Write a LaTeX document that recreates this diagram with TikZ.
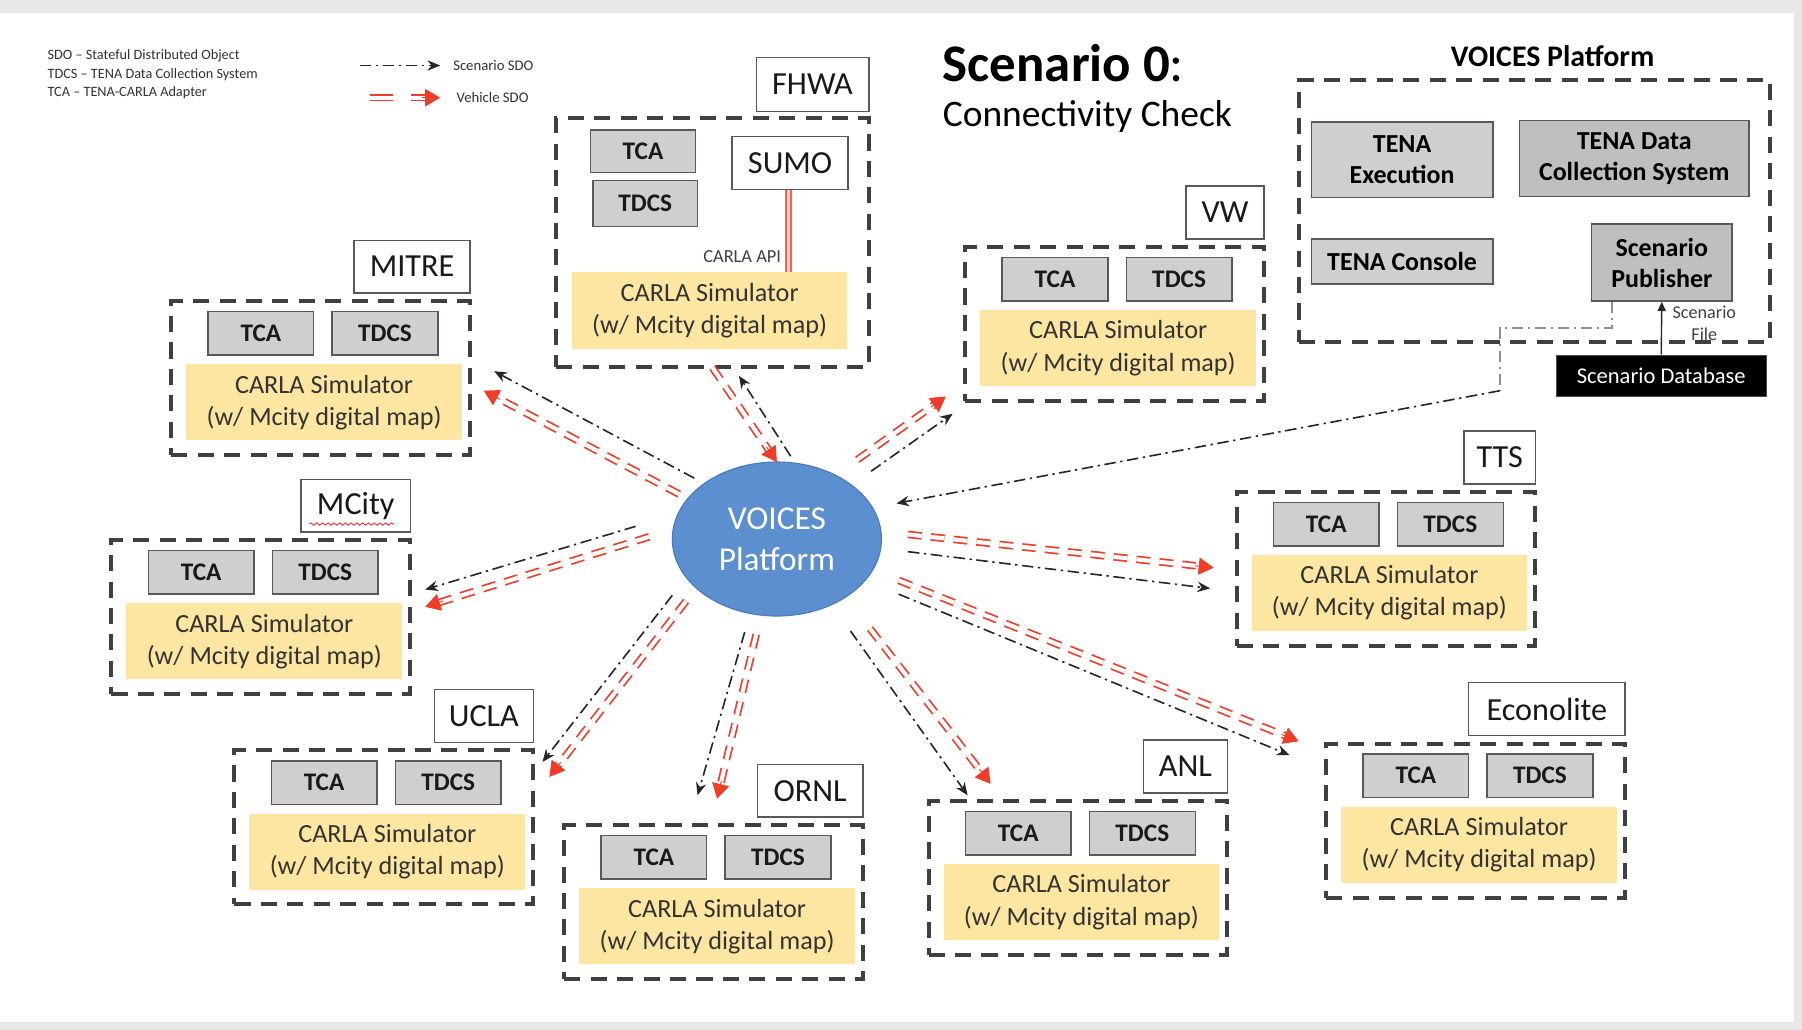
\documentclass[tikz,border=0pt]{standalone}
\usepackage{fontspec}
\setmainfont{Carlito}
\usetikzlibrary{shapes.geometric,arrows.meta,calc,decorations.pathmorphing}
\definecolor{grpc}{HTML}{404040}
\definecolor{compfill}{HTML}{D0CECE}
\definecolor{compdark}{HTML}{BFBFBF}
\definecolor{compdraw}{HTML}{595959}
\definecolor{carlafill}{HTML}{FDE6A2}
\definecolor{vblue}{HTML}{5B8FCF}
\definecolor{vbluedk}{HTML}{4A7BBE}
\definecolor{vred}{HTML}{F03C28}
\tikzset{
 grp/.style={draw=grpc, line width=1.75pt, dash pattern=on 7pt off 4.5pt, inner sep=0pt},
 comp/.style={draw=compdraw, fill=compfill, line width=0.6pt, inner sep=0pt, font=\bfseries\fontsize{11}{13.5}\selectfont, align=center, text=black!90},
 compd/.style={comp, fill=compdark},
 tena/.style={font=\bfseries\fontsize{11.3}{13.5}\selectfont, text=black},
 carla/.style={fill=carlafill, inner sep=0pt, align=center, font=\fontsize{11.4}{14}\selectfont, text=black!80},
 lbl/.style={draw=compdraw, fill=white, line width=0.6pt, inner sep=0pt, font=\fontsize{14}{16}\selectfont, text=black!90},
 scen/.style={draw=black!85, line width=0.7pt, dash pattern=on 5pt off 2pt on 1pt off 2pt, -{Stealth[length=5.5pt,width=4.5pt]}},
 vehline/.style={draw=vred, double=white, double distance=1.8pt, line width=0.75pt, dash pattern=on 6pt off 4pt, shorten >=5pt},
 vehtip/.style={draw=vred, fill=vred, line width=0.4pt, -{Triangle[length=6.5pt,width=7.5pt]}},
}
% box node from corner (x1,y1) to (x2,y2)
\newcommand\bx[7]{\node[#1, minimum width={((#5)-(#3))*0.5pt}, minimum height={((#6)-(#4))*0.5pt}] (#2) at ({((#3)+(#5))/2},{((#4)+(#6))/2}) {#7};}
\newcommand\site[5]{%
 \begin{scope}[shift={(#2,#3)}]
  \bx{grp}{#1}{0}{0}{260}{134}{}
  \bx{lbl}{#1lbl}{260-#5}{-53}{260}{-7}{#4}
  \bx{comp}{#1tca}{32}{9}{124}{47}{TCA}
  \bx{comp}{#1tdcs}{140}{9}{232}{47}{TDCS}
  \bx{carla}{#1carla}{13}{55}{253}{121}{CARLA Simulator\\(w/ Mcity digital map)}
 \end{scope}}
\newcommand\veh[2]{\draw[vehline] (#1) -- (#2); \draw[vehtip] ($(#2)!8pt!(#1)$) -- (#2);}
\begin{document}
\begin{tikzpicture}[x=0.5pt,y=-0.5pt]
\useasboundingbox (0,0) rectangle (1568,896);
\fill[black!9] (0,0) rectangle (1568,896);
\fill[white] (0,11) rectangle (1561,889);

% legend
\node[anchor=north west, align=left, inner sep=0pt, font=\fontsize{6.2}{8}\selectfont, text=black!80] (legend) at (41,43)
 {SDO -- Stateful Distributed Object\\TDCS -- TENA Data Collection System\\TCA -- TENA-CARLA Adapter};
\coordinate (lk1) at (313,57); \coordinate (lk2) at (383,57);
\coordinate (lv1) at (322,85); \coordinate (lv2) at (383,85);
\draw[scen] (lk1) -- (lk2);
\draw[vehline, dash pattern=on 10pt off 8pt] (lv1) -- (lv2); \draw[vehtip] ($(lv2)!8pt!(lv1)$) -- (lv2);
\node[anchor=west, inner sep=0pt, font=\fontsize{6.4}{8}\selectfont, text=black!80] (lks) at (394,57) {Scenario SDO};
\node[anchor=west, inner sep=0pt, font=\fontsize{6.4}{8}\selectfont, text=black!80] (lvs) at (397,85) {Vehicle SDO};

% title
\node[anchor=base west, inner sep=0pt, font=\fontsize{23}{26}\selectfont] (title) at (820,71) {\textbf{Scenario 0}:};
\node[anchor=base west, inner sep=0pt, font=\fontsize{16.3}{19}\selectfont] (subtitle) at (820,110) {Connectivity Check};

% VOICES platform box
\node[inner sep=0pt, font=\bfseries\fontsize{13}{15}\selectfont] (vptitle) at (1351,49) {VOICES Platform};
\bx{grp}{vp}{1130}{70}{1540}{298}{}
\bx{comp,tena}{exec}{1141}{106}{1299}{172}{TENA\\Execution}
\bx{compd,tena}{tdcsys}{1322}{105}{1522}{171}{TENA Data\\Collection System}
\bx{comp,tena}{console}{1141}{208}{1299}{247}{TENA Console}
\bx{compd,tena}{pub}{1385}{195}{1507}{262}{Scenario\\Publisher}
\bx{fill=black, draw=black!70, inner sep=0pt, text=white, font=\fontsize{9.8}{12}\selectfont}{db}{1354}{309}{1537}{345}{Scenario Database}
\draw[black!85, line width=0.6pt, -{Triangle[length=4pt,width=3.5pt]}] (db.north) -- (pub.south);
\node[align=center, inner sep=0pt, font=\fontsize{7.9}{9.5}\selectfont, text=black!75] (sfile) at (1483,281) {Scenario\\File};

% FHWA
\bx{grp}{fhwa}{484}{103}{756}{319}{}
\bx{lbl}{fhwalbl}{658}{50}{756}{97}{FHWA}
\bx{comp}{fhwatca}{514}{113}{605}{150}{TCA}
\bx{comp}{fhwatdcs}{516}{157}{607}{197}{TDCS}
\bx{lbl}{sumo}{637}{119}{738}{165}{SUMO}
\bx{carla}{fhwacarla}{498}{237}{737}{304}{CARLA Simulator\\(w/ Mcity digital map)}
\draw[draw=vred!80, double=vred!25, double distance=1.6pt, line width=0.6pt] (sumo.south -| 686,0) -- (fhwacarla.north -| 686,0);
\node[anchor=east, inner sep=0pt, font=\fontsize{8}{10}\selectfont, text=black!75] (api) at (680,223) {CARLA API};

% sites
\site{mitre}{149}{262}{MITRE}{101}
\site{mcity}{97}{470}{MCity}{95}
\site{ucla}{204}{653}{UCLA}{86}
\site{ornl}{491}{718}{ORNL}{92}
\site{anl}{808}{697}{ANL}{73}
\site{econ}{1154}{647}{Econolite}{136}
\site{tts}{1076}{428}{TTS}{62}
\site{vw}{840}{215}{VW}{68}
\coordinate (sq1) at (269,456); \coordinate (sq2) at (343,456);
\draw[red!80, line width=0.4pt, decorate, decoration={snake, amplitude=0.5pt, segment length=2.5pt}] (sq1) -- (sq2);

% central ellipse
\node[ellipse, fill=vblue, draw=vbluedk, line width=0.5pt, minimum width=91pt, minimum height=67pt, inner sep=0pt, align=center, text=white, font=\fontsize{14.5}{18}\selectfont] (voices) at (676,469) {VOICES\\Platform};

% connector end points
\coordinate (mitreK1) at (604,416); \coordinate (mitreK2) at (430,323);
\coordinate (mitreV1) at (591,430); \coordinate (mitreV2) at (421,340);
\coordinate (fhwaV1) at (620,320); \coordinate (fhwaV2) at (676,402);
\coordinate (fhwaK1) at (688,397); \coordinate (fhwaK2) at (643,327);
\coordinate (vwV1) at (746,400); \coordinate (vwV2) at (823,345);
\coordinate (vwK1) at (758,410); \coordinate (vwK2) at (829,360);
\coordinate (ttsV1) at (790,465); \coordinate (ttsV2) at (1056,494);
\coordinate (ttsK1) at (790,480); \coordinate (ttsK2) at (1053,512);
\coordinate (econV1) at (782,505); \coordinate (econV2) at (1130,645);
\coordinate (econK1) at (782,517); \coordinate (econK2) at (1122,657);
\coordinate (anlV1) at (757,547); \coordinate (anlV2) at (862,682);
\coordinate (anlK1) at (740,549); \coordinate (anlK2) at (842,692);
\coordinate (ornlV1) at (658,552); \coordinate (ornlV2) at (624,695);
\coordinate (ornlK1) at (648,550); \coordinate (ornlK2) at (607,692);
\coordinate (uclaV1) at (597,523); \coordinate (uclaV2) at (478,676);
\coordinate (uclaK1) at (585,518); \coordinate (uclaK2) at (472,663);
\coordinate (mcityK1) at (553,458); \coordinate (mcityK2) at (370,513);
\coordinate (mcityV1) at (565,467); \coordinate (mcityV2) at (370,528);
\coordinate (pubout) at ($(pub.south west)+(18,0)$);
\coordinate (pubbend) at (1305,340);
\coordinate (pubin) at (780,438);

% scenario SDO connectors
\draw[scen] (mitreK1) -- (mitreK2);
\draw[scen] (fhwaK1) -- (fhwaK2);
\draw[scen] (vwK1) -- (vwK2);
\draw[scen] (ttsK1) -- (ttsK2);
\draw[scen] (econK1) -- (econK2);
\draw[scen] (anlK1) -- (anlK2);
\draw[scen] (ornlK1) -- (ornlK2);
\draw[scen] (uclaK1) -- (uclaK2);
\draw[scen] (mcityK1) -- (mcityK2);
\draw[black!45, line width=0.7pt, dash pattern=on 5pt off 2pt on 1pt off 2pt] (pubout) -- ++(0,23) -| (pubbend);
\draw[scen] (pubbend) -- (pubin);

% vehicle SDO connectors
\veh{mitreV1}{mitreV2}
\veh{fhwaV1}{fhwaV2}
\veh{vwV1}{vwV2}
\veh{ttsV1}{ttsV2}
\veh{econV1}{econV2}
\veh{anlV1}{anlV2}
\veh{ornlV1}{ornlV2}
\veh{uclaV1}{uclaV2}
\veh{mcityV1}{mcityV2}
\end{tikzpicture}
\end{document}
